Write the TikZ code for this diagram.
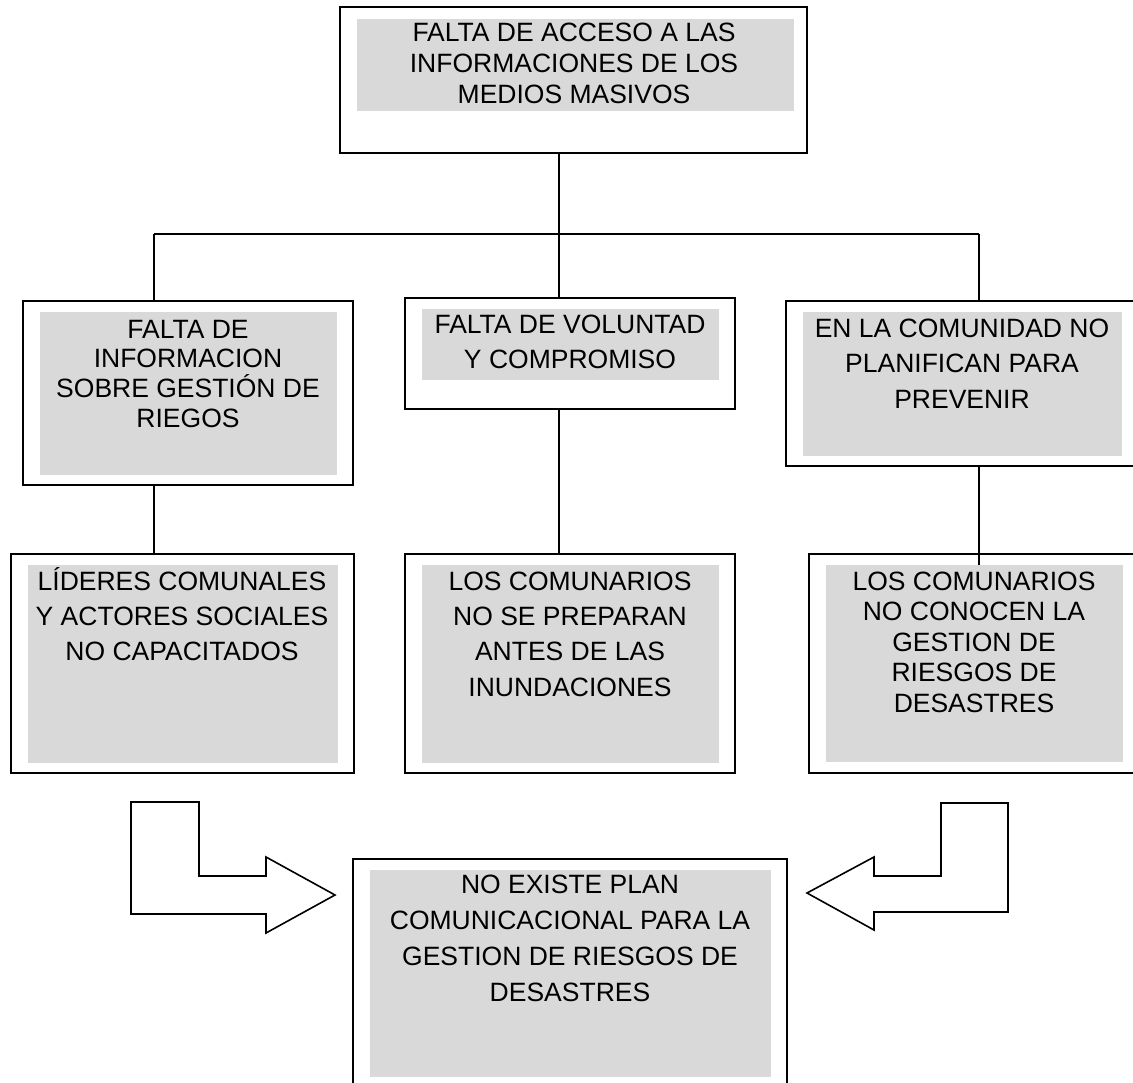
\documentclass[tikz,border=0pt]{standalone}
\usepackage{fontspec}
\setmainfont{Liberation Sans}
\usetikzlibrary{fit}
\definecolor{boxgray}{RGB}{217,217,217}
\tikzset{
  obox/.style={draw=black, line width=2pt, fill=white, inner sep=0pt},
  gbox/.style={fill=boxgray, draw=none, inner sep=0pt},
  txt/.style={align=center, inner sep=0pt, anchor=base},
  link/.style={draw=black, line width=2pt},
  barrow/.style={draw=black, line width=1.6pt, fill=white, line join=miter}
}
\newcommand{\tfont}[1]{\fontsize{26.5}{#1}\selectfont}
\begin{document}
\begin{tikzpicture}[x=1pt,y=-1pt]
\useasboundingbox (0,0) rectangle (1133,1083);
% junction coordinates
\coordinate (jt) at (559,234);
\coordinate (jl) at (154,234);
\coordinate (jr) at (979,234);
% outer boxes
\node[obox, fit={(340,7) (807,153)}] (top) {};
\node[obox, fit={(23,301) (353,485)}] (l1) {};
\node[obox, fit={(405,298) (735,409)}] (m1) {};
\node[obox, fit={(786,301) (1145,466)}] (r1) {};
\node[obox, fit={(11,554) (354,773)}] (l2) {};
\node[obox, fit={(405,554) (735,773)}] (m2) {};
\node[obox, fit={(809,554) (1145,773)}] (r2) {};
\node[obox, fit={(353,859) (787,1100)}] (fin) {};
% gray fills
\node[gbox, fit={(357,19) (794,111)}] (topg) {};
\node[gbox, fit={(40,312) (337,475)}] (l1g) {};
\node[gbox, fit={(422,309) (719,380)}] (m1g) {};
\node[gbox, fit={(803,312) (1122,456)}] (r1g) {};
\node[gbox, fit={(28,565) (338,763)}] (l2g) {};
\node[gbox, fit={(422,565) (719,763)}] (m2g) {};
\node[gbox, fit={(826,565) (1123,762)}] (r2g) {};
\node[gbox, fit={(370,870) (771,1077)}] (fing) {};
% connectors
\draw[link] (top.south -| jt) -- (jt);
\draw[link] (jl) -- (jr);
\draw[link] (jl) -- (l1.north -| jl);
\draw[link] (jt) -- (m1.north -| jt);
\draw[link] (jr) -- (r1.north -| jr);
\draw[link] (l1.south -| jl) -- (l2.north -| jl);
\draw[link] (m1.south -| jt) -- (m2.north -| jt);
\draw[link] (r1.south -| jr) -- (r2g.north -| jr);
% texts (anchored at the baseline of the last line)
\node[txt, font=\tfont{31}] (topt) at (574,104) {FALTA DE ACCESO A LAS\\INFORMACIONES DE LOS\\MEDIOS MASIVOS};
\node[txt, font=\tfont{29.8}] (l1t) at (188,427.4) {FALTA DE\\INFORMACION\\SOBRE GESTIÓN DE\\RIEGOS};
\node[txt, font=\tfont{35}] (m1t) at (570,369) {FALTA DE VOLUNTAD\\Y COMPROMISO};
\node[txt, font=\tfont{35.5}] (r1t) at (962,408) {EN LA COMUNIDAD NO\\PLANIFICAN PARA\\PREVENIR};
\node[txt, font=\tfont{35}] (l2t) at (182,660) {LÍDERES COMUNALES\\Y ACTORES SOCIALES\\NO CAPACITADOS};
\node[txt, font=\tfont{35.3}] (m2t) at (570,696) {LOS COMUNARIOS\\NO SE PREPARAN\\ANTES DE LAS\\INUNDACIONES};
\node[txt, font=\tfont{30.5}] (r2t) at (974,712) {LOS COMUNARIOS\\NO CONOCEN LA\\GESTION DE\\RIESGOS DE\\DESASTRES};
\node[txt, font=\tfont{35.7}] (fint) at (570,1001) {NO EXISTE PLAN\\COMUNICACIONAL PARA LA\\GESTION DE RIESGOS DE\\DESASTRES};
% block arrows
\draw[barrow] (131,802) -- (199,802) -- (199,876) -- (266,876) -- (266,857) -- (335,895) -- (266,933) -- (266,914) -- (131,914) -- cycle;
\draw[barrow] (1008,803) -- (941,803) -- (941,876) -- (874,876) -- (874,857) -- (807,893) -- (874,930) -- (874,912) -- (1008,912) -- cycle;
\end{tikzpicture}
\end{document}
